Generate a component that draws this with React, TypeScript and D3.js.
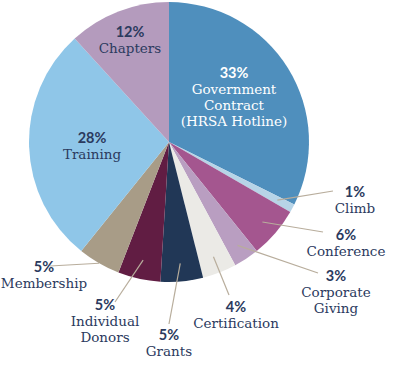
import React from "react";
import * as d3 from "d3";

// revenue sources, clockwise from 12 o'clock
const categories = [
  "Government Contract (HRSA Hotline)",
  "Climb",
  "Conference",
  "Corporate Giving",
  "Certification",
  "Grants",
  "Individual Donors",
  "Membership",
  "Training",
  "Chapters",
];
const values = [33, 1, 6, 3, 4, 5, 5, 5, 28, 12];
const nameLines = [
  ["Government", "Contract", "(HRSA Hotline)"],
  ["Climb"],
  ["Conference"],
  ["Corporate", "Giving"],
  ["Certification"],
  ["Grants"],
  ["Individual", "Donors"],
  ["Membership"],
  ["Training"],
  ["Chapters"],
];

const colors = [
  "#4f8fbd",
  "#b7d4e7",
  "#a4568f",
  "#b99ec1",
  "#ebeae6",
  "#213756",
  "#611d43",
  "#a89c87",
  "#8fc6e8",
  "#b49bbd",
];

// label placement (x centre, first baseline) and whether a leader line is drawn
const labelPos = [
  { x: 234, y: 78, leader: false, lx: 0, ly: 0, r: 0 },
  { x: 355, y: 197, leader: true, lx: 333, ly: 191, r: 123 },
  { x: 346, y: 240, leader: true, lx: 323, ly: 232, r: 123 },
  { x: 336, y: 281, leader: true, lx: 318, ly: 273, r: 124 },
  { x: 236, y: 312, leader: true, lx: 229, ly: 295, r: 123 },
  { x: 169, y: 340, leader: true, lx: 169, ly: 324, r: 122 },
  { x: 105, y: 310, leader: true, lx: 115, ly: 302, r: 121 },
  { x: 44, y: 272, leader: true, lx: 50, ly: 266, r: 140 },
  { x: 92, y: 143, leader: false, lx: 0, ly: 0, r: 0 },
  { x: 130, y: 37, leader: false, lx: 0, ly: 0, r: 0 },
];

const W = 400;
const H = 365;
const cx = 169;
const cy = 142;
const R = 140;
const textColor = "#2b3a5e";

export default function App() {
  const pie = d3
    .pie<number>()
    .sort(null)
    .value((d) => d);
  const arcs = pie(values);
  const arc = d3.arc<d3.PieArcDatum<number>>().innerRadius(0).outerRadius(R);

  return (
    <svg
      width={W}
      height={H}
      style={{ position: "absolute", left: 0, top: 0, background: "#fff" }}
    >
      <g transform={`translate(${cx},${cy})`}>
        {arcs.map((a, i) => (
          <path key={categories[i]} d={arc(a) || ""} fill={colors[i]} />
        ))}
        {arcs.map((a, i) => {
          const p = labelPos[i];
          if (!p.leader) return null;
          const inner = d3
            .arc<d3.PieArcDatum<number>>()
            .innerRadius(p.r)
            .outerRadius(p.r)
            .centroid(a);
          return (
            <line
              key={"l" + i}
              x1={inner[0]}
              y1={inner[1]}
              x2={p.lx - cx}
              y2={p.ly - cy}
              stroke="#b8ad9c"
              strokeWidth={1.2}
            />
          );
        })}
      </g>
      {values.map((v, i) => {
        const p = labelPos[i];
        const fill = i === 0 ? "#ffffff" : textColor;
        return (
          <text key={"t" + i} textAnchor="middle" fill={fill}>
            <tspan
              x={p.x}
              y={p.y}
              fontFamily="Lato, sans-serif"
              fontWeight={700}
              fontSize={14.5}
            >
              {v}%
            </tspan>
            {nameLines[i].map((ln, j) => (
              <tspan
                key={j}
                x={p.x}
                y={p.y + 16 * (j + 1)}
                fontFamily="'DejaVu Serif', serif"
                fontSize={13.5}
              >
                {ln}
              </tspan>
            ))}
          </text>
        );
      })}
    </svg>
  );
}
